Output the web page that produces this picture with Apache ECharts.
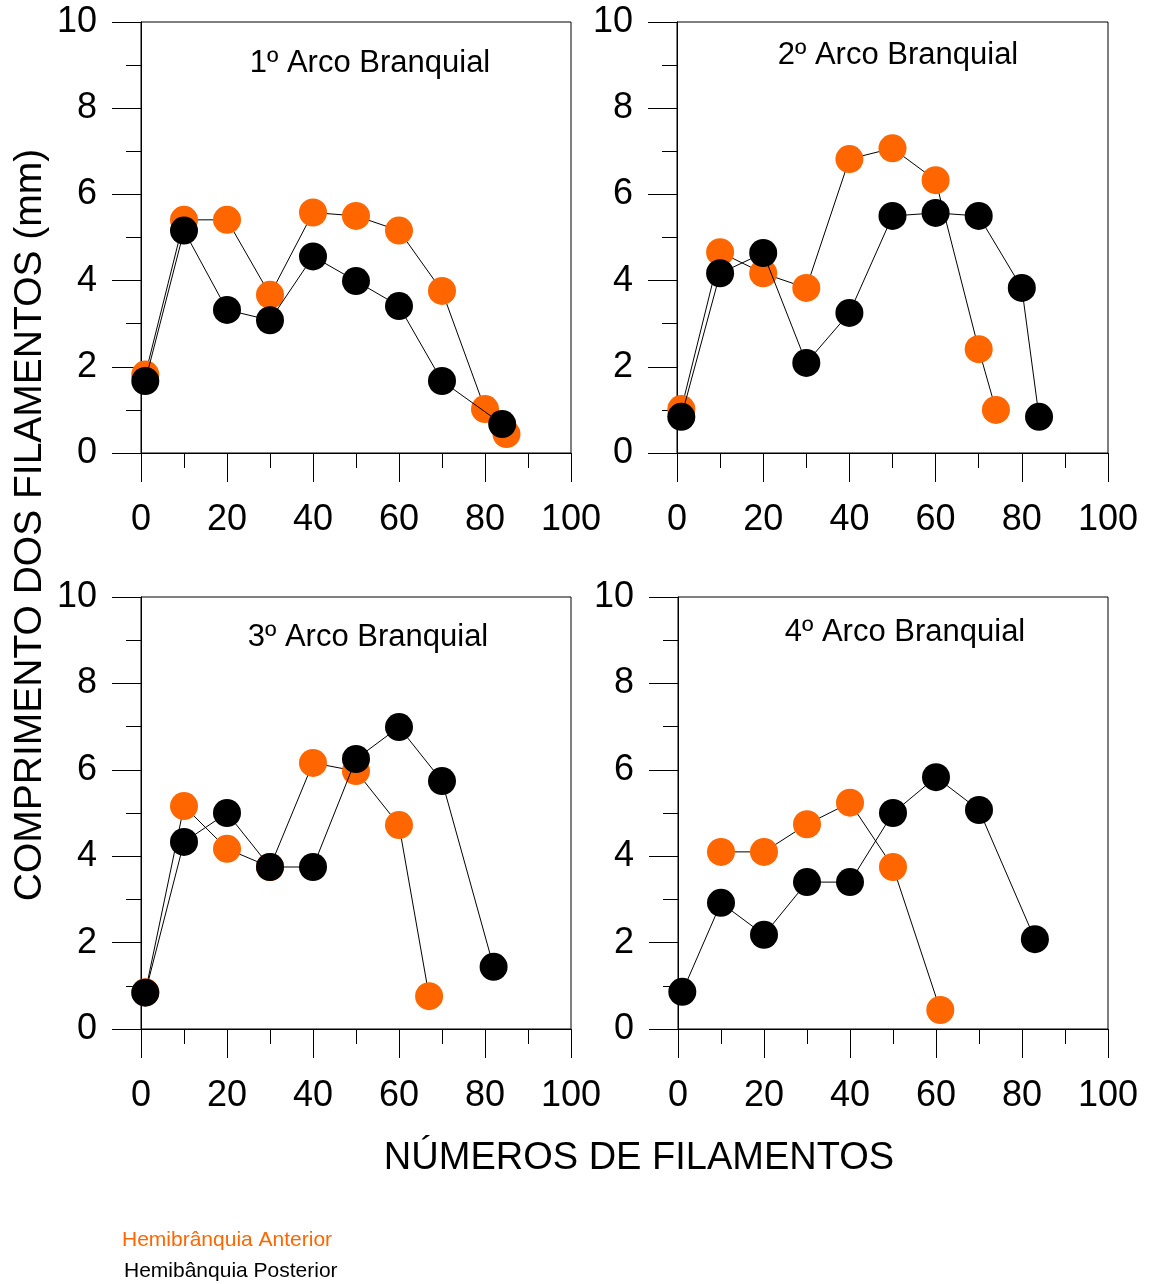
<!DOCTYPE html>
<html>
<head>
<meta charset="utf-8">
<script src="https://cdn.jsdelivr.net/npm/echarts@6/dist/echarts.min.js"></script>
<style>
html,body{margin:0;padding:0;background:#fff;}
#chart{width:1149px;height:1284px;}
</style>
</head>
<body>
<div id="chart"></div>
<script>
// Panel titles
const panelTitles = ['1º Arco Branquial', '2º Arco Branquial', '3º Arco Branquial', '4º Arco Branquial'];
const seriesNames = ['Hemibrânquia Anterior', 'Hemibânquia Posterior'];
const xTicks = [0, 20, 40, 60, 80, 100];
const yTicks = [0, 2, 4, 6, 8, 10];

// Arch 1
const arch1AntX = [1, 10, 20, 30, 40, 50, 60, 70, 80, 85];
const arch1AntY = [1.82, 5.41, 5.41, 3.67, 5.58, 5.5, 5.16, 3.76, 1.02, 0.44];
const arch1PosX = [1, 10, 20, 30, 40, 50, 60, 70, 84];
const arch1PosY = [1.67, 5.16, 3.32, 3.08, 4.56, 3.99, 3.41, 1.67, 0.67];
// Arch 2
const arch2AntX = [1, 10, 20, 30, 40, 50, 60, 70, 74];
const arch2AntY = [1.02, 4.66, 4.17, 3.83, 6.82, 7.07, 6.33, 2.41, 1.0];
const arch2PosX = [1, 10, 20, 30, 40, 50, 60, 70, 80, 84];
const arch2PosY = [0.84, 4.17, 4.64, 2.09, 3.25, 5.5, 5.57, 5.5, 3.83, 0.84];
// Arch 3
const arch3AntX = [1, 10, 20, 30, 40, 50, 60, 67];
const arch3AntY = [0.85, 5.16, 4.17, 3.75, 6.16, 5.97, 4.72, 0.76];
const arch3PosX = [1, 10, 20, 30, 40, 50, 60, 70, 82];
const arch3PosY = [0.84, 4.33, 5.0, 3.75, 3.75, 6.25, 6.99, 5.74, 1.44];
// Arch 4
const arch4AntX = [10, 20, 30, 40, 50, 61];
const arch4AntY = [4.1, 4.1, 4.74, 5.24, 3.75, 0.44];
const arch4PosX = [1, 10, 20, 30, 40, 50, 60, 70, 83];
const arch4PosY = [0.86, 2.92, 2.18, 3.4, 3.4, 5.0, 5.83, 5.07, 2.08];

const antX = [arch1AntX, arch2AntX, arch3AntX, arch4AntX];
const antY = [arch1AntY, arch2AntY, arch3AntY, arch4AntY];
const posX = [arch1PosX, arch2PosX, arch3PosX, arch4PosX];
const posY = [arch1PosY, arch2PosY, arch3PosY, arch4PosY];

const ORANGE = '#ff6600';
const FONT = '"Liberation Sans", Arial, sans-serif';

const grids = [
  {left: 141, top: 22, width: 430, height: 431},
  {left: 677, top: 22, width: 431, height: 431},
  {left: 141, top: 597, width: 430, height: 432},
  {left: 678, top: 597, width: 430, height: 432}
];

function zip(xs, ys) { return xs.map((x, i) => [x, ys[i]]); }

const option = {
  animation: false,
  backgroundColor: '#fff',
  grid: grids.map(g => Object.assign({show: true, borderColor: '#000', borderWidth: 1, backgroundColor: 'transparent'}, g)),
  xAxis: grids.map((g, i) => ({
    type: 'value', gridIndex: i, min: xTicks[0], max: xTicks[xTicks.length - 1], interval: xTicks[1] - xTicks[0],
    axisLine: {show: true, lineStyle: {color: '#000', width: 1}},
    axisTick: {show: true, length: 29, inside: false, lineStyle: {color: '#000', width: 1}},
    minorTick: {show: true, splitNumber: 2, length: 15, lineStyle: {color: '#000', width: 1}},
    splitLine: {show: false},
    axisLabel: {color: '#000', fontSize: 36, fontFamily: FONT, margin: 49}
  })),
  yAxis: grids.map((g, i) => ({
    type: 'value', gridIndex: i, min: yTicks[0], max: yTicks[yTicks.length - 1], interval: yTicks[1] - yTicks[0],
    axisLine: {show: true, lineStyle: {color: '#000', width: 1}},
    axisTick: {show: true, length: 29, lineStyle: {color: '#000', width: 1}},
    minorTick: {show: true, splitNumber: 2, length: 15, lineStyle: {color: '#000', width: 1}},
    splitLine: {show: false},
    axisLabel: {color: '#000', fontSize: 36, fontFamily: FONT, margin: 44}
  })),
  series: [],
  graphic: []
};

for (let i = 0; i < 4; i++) {
  option.series.push({
    name: seriesNames[0], type: 'line', xAxisIndex: i, yAxisIndex: i,
    data: zip(antX[i], antY[i]), symbol: 'circle', symbolSize: 28,
    itemStyle: {color: ORANGE}, lineStyle: {color: '#000', width: 1}, z: 2
  });
  option.series.push({
    name: seriesNames[1], type: 'line', xAxisIndex: i, yAxisIndex: i,
    data: zip(posX[i], posY[i]), symbol: 'circle', symbolSize: 28,
    itemStyle: {color: '#000'}, lineStyle: {color: '#000', width: 1}, z: 3
  });
}

const titlePos = [[370, 63], [898, 55], [368, 637], [905, 632]];
panelTitles.forEach((t, i) => {
  option.graphic.push({
    type: 'text', x: titlePos[i][0], y: titlePos[i][1],
    style: {text: t, fill: '#000', font: '31px ' + FONT, textAlign: 'center', textVerticalAlign: 'middle'}
  });
});
option.graphic.push({
  type: 'text', x: 30, y: 525, rotation: Math.PI / 2,
  style: {text: 'COMPRIMENTO DOS FILAMENTOS (mm)', fill: '#000', font: '39px ' + FONT, textAlign: 'center', textVerticalAlign: 'middle'}
});
option.graphic.push({
  type: 'text', x: 639, y: 1159,
  style: {text: 'NÚMEROS DE FILAMENTOS', fill: '#000', font: '38px ' + FONT, textAlign: 'center', textVerticalAlign: 'middle'}
});
option.graphic.push({
  type: 'text', x: 122, y: 1240,
  style: {text: seriesNames[0], fill: ORANGE, font: '21px ' + FONT, textAlign: 'left', textVerticalAlign: 'middle'}
});
option.graphic.push({
  type: 'text', x: 124, y: 1271,
  style: {text: seriesNames[1], fill: '#000', font: '21px ' + FONT, textAlign: 'left', textVerticalAlign: 'middle'}
});

const chart = echarts.init(document.getElementById('chart'), null, {renderer: 'canvas'});
chart.setOption(option);
</script>
</body>
</html>
